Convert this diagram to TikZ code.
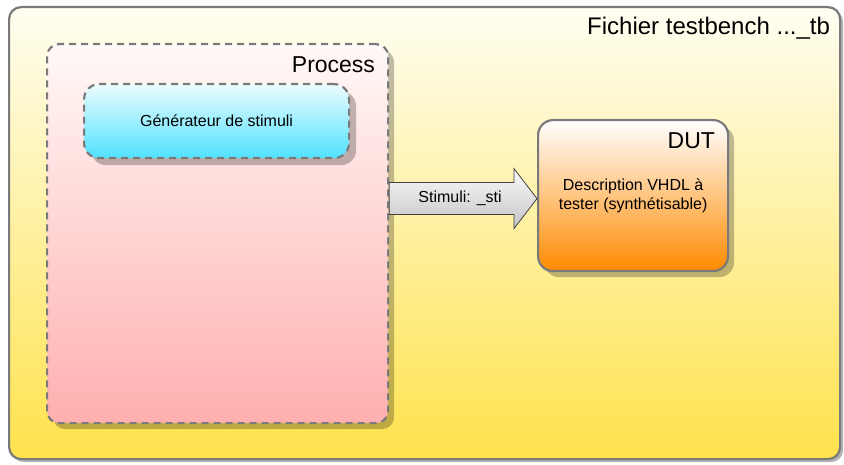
\documentclass[tikz,border=0pt]{standalone}
\usepackage{fontspec}
\setmainfont{Liberation Sans}
\usetikzlibrary{shadows,calc}

\definecolor{edgegray}{HTML}{7A7A7A}
\definecolor{benchtop}{HTML}{FFFEF2}
\definecolor{benchbot}{HTML}{FFE24C}
\definecolor{proctop}{HTML}{FFF9F7}
\definecolor{procbot}{HTML}{FFAFAF}
\definecolor{gentop}{HTML}{ECFCFF}
\definecolor{genbot}{HTML}{50E2FF}
\definecolor{duttop}{HTML}{FFFFFF}
\definecolor{dutbot}{HTML}{FF8A00}
\definecolor{arrtop}{HTML}{FAFAFA}
\definecolor{arrbot}{HTML}{C4C4C4}

\tikzset{
  box/.style={rectangle, anchor=north west, inner sep=0pt, draw=edgegray,
    line width=2.2pt},
  boxshadow/.style={drop shadow={shadow xshift=#1, shadow yshift=-#1,
    opacity=0.25, fill=black}},
  dashbox/.style={box, dash pattern=on 7pt off 5pt},
  bigtext/.style={font=\fontsize{23}{27}\selectfont, inner sep=0pt, anchor=base east},
  smalltext/.style={font=\fontsize{16}{19.5}\selectfont, align=center, inner sep=0pt},
  flowarrow/.style={draw=black!75, line width=0.8pt, top color=arrtop, bottom color=arrbot}
}

\begin{document}
\begin{tikzpicture}[x=1pt,y=-1pt]
\useasboundingbox (0,0) rectangle (844,465);

% testbench file frame
\node[box, rounded corners=12pt, minimum width=831pt, minimum height=452pt,
  top color=benchtop, bottom color=benchbot,
  drop shadow={shadow xshift=3pt, shadow yshift=-3pt, opacity=0.3, fill=black}]
  (tb) at (8,6) {};
\node[bigtext, font=\fontsize{24}{28}\selectfont] (tbtitle)
  at ($(tb.north east)+(-11,29)$) {Fichier testbench ...\_tb};

% process
\node[dashbox, rounded corners=12pt, minimum width=341pt, minimum height=379pt,
  top color=proctop, bottom color=procbot, boxshadow=6pt]
  (proc) at (46,43) {};
\node[bigtext] (proctitle) at ($(proc.north east)+(-14,30)$) {Process};

% stimulus generator
\node[dashbox, rounded corners=15pt, minimum width=265pt, minimum height=74pt,
  top color=gentop, bottom color=genbot, boxshadow=7pt]
  (gen) at (83,83) {};
\node[smalltext] (gentext) at (gen.center) {Générateur de stimuli};

% device under test
\node[box, rounded corners=15pt, minimum width=190pt, minimum height=151pt,
  top color=duttop, bottom color=dutbot, boxshadow=6pt]
  (dut) at (537,119) {};
\node[bigtext] (duttitle) at ($(dut.north east)+(-14,30)$) {DUT};
\node[smalltext] (duttext) at (dut.center) {Description VHDL à\\tester (synthétisable)};

% stimulus signal arrow
\coordinate (tip) at ($(dut.west)+(0,3)$);
\coordinate (tail) at (proc.east |- tip);
\draw[flowarrow]
  ($(tail)+(0,-16)$) -- ($(tip)+(-23,-16)$) -- ($(tip)+(-23,-30)$) -- (tip)
  -- ($(tip)+(-23,30)$) -- ($(tip)+(-23,16)$) -- ($(tail)+(0,16)$) -- cycle;
\node[smalltext] (sig) at ($(tail)!0.5!(tip)+(-3,0)$) {Stimuli: \_sti};
\end{tikzpicture}
\end{document}
